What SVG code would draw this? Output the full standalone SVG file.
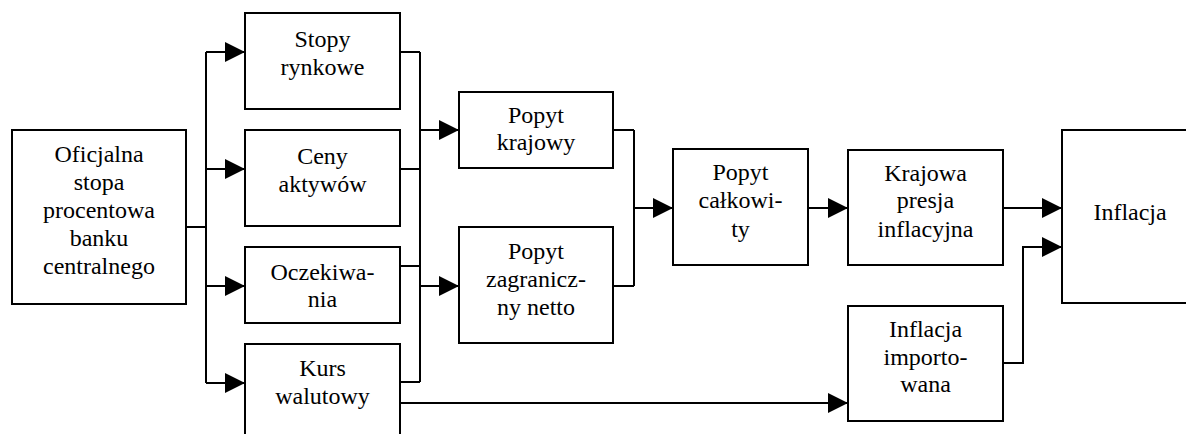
<svg xmlns="http://www.w3.org/2000/svg" width="1186" height="434" viewBox="0 0 1186 434">
  <style>
    .box { fill: #ffffff; stroke: #000000; stroke-width: 2; }
  </style>
  <defs>
    <marker id="head" markerUnits="userSpaceOnUse" markerWidth="20" markerHeight="20" refX="20" refY="10" orient="auto">
      <path d="M0,0 L20,10 L0,20 z" fill="#000000"/>
    </marker>
  </defs>
  <rect width="1186" height="434" fill="#ffffff"/>

  <!-- connectors -->
  <g id="connectors" fill="none" stroke="#000000" stroke-width="2">
    <!-- fan-out from the policy rate -->
    <path d="M186,227 H206 M206,52 V383"/>
    <path d="M206,52 H245" marker-end="url(#head)"/>
    <path d="M206,169 H245" marker-end="url(#head)"/>
    <path d="M206,286 H245" marker-end="url(#head)"/>
    <path d="M206,383 H245" marker-end="url(#head)"/>
    <!-- collector of the four channels -->
    <path d="M400,52 H420 M400,169 H420 M400,266 H420 M400,382 H420 M420,52 V382"/>
    <path d="M420,130 H459" marker-end="url(#head)"/>
    <path d="M420,286 H459" marker-end="url(#head)"/>
    <!-- demand components into total demand -->
    <path d="M613,130 H634 M613,286 H634 M634,130 V286"/>
    <path d="M634,208 H673" marker-end="url(#head)"/>
    <path d="M808,208 H848" marker-end="url(#head)"/>
    <path d="M1003,208 H1062" marker-end="url(#head)"/>
    <!-- exchange rate to imported inflation -->
    <path d="M400,403 H848" marker-end="url(#head)"/>
    <path d="M1003,363 H1023 V247 H1062" marker-end="url(#head)"/>
  </g>

  <!-- labels are placed by their left edge, centred by Times metrics at 24px -->
  <g id="oficjalna-stopa">
    <rect class="box" x="12" y="130" width="174" height="174"/>
    <text x="54.4" y="162" font-family="Liberation Serif" font-size="24">Oficjalna</text>
    <text x="73.7" y="190" font-family="Liberation Serif" font-size="24">stopa</text>
    <text x="43" y="218" font-family="Liberation Serif" font-size="24">procentowa</text>
    <text x="69.7" y="246" font-family="Liberation Serif" font-size="24">banku</text>
    <text x="43" y="274" font-family="Liberation Serif" font-size="24">centralnego</text>
  </g>

  <g id="stopy-rynkowe">
    <rect class="box" x="245" y="13" width="155" height="96"/>
    <text x="294.5" y="47" font-family="Liberation Serif" font-size="24">Stopy</text>
    <text x="280.5" y="75" font-family="Liberation Serif" font-size="24">rynkowe</text>
  </g>

  <g id="ceny-aktywow">
    <rect class="box" x="245" y="130" width="155" height="96"/>
    <text x="297.2" y="164" font-family="Liberation Serif" font-size="24">Ceny</text>
    <text x="278.5" y="192" font-family="Liberation Serif" font-size="24">aktywów</text>
  </g>

  <g id="oczekiwania">
    <rect class="box" x="245" y="247" width="155" height="76"/>
    <text x="270.5" y="280" font-family="Liberation Serif" font-size="24">Oczekiwa-</text>
    <text x="307.8" y="307" font-family="Liberation Serif" font-size="24">nia</text>
  </g>

  <g id="kurs-walutowy">
    <rect class="box" x="245" y="344" width="155" height="100"/>
    <text x="299.2" y="376" font-family="Liberation Serif" font-size="24">Kurs</text>
    <text x="275.2" y="404" font-family="Liberation Serif" font-size="24">walutowy</text>
  </g>

  <g id="popyt-krajowy">
    <rect class="box" x="459" y="92" width="154" height="76"/>
    <text x="508" y="123" font-family="Liberation Serif" font-size="24">Popyt</text>
    <text x="496.7" y="150" font-family="Liberation Serif" font-size="24">krajowy</text>
  </g>

  <g id="popyt-zagraniczny">
    <rect class="box" x="459" y="227" width="154" height="116"/>
    <text x="508" y="259" font-family="Liberation Serif" font-size="24">Popyt</text>
    <text x="486" y="287" font-family="Liberation Serif" font-size="24">zagranicz-</text>
    <text x="497" y="315" font-family="Liberation Serif" font-size="24">ny netto</text>
  </g>

  <g id="popyt-calkowity">
    <rect class="box" x="673" y="149" width="135" height="116"/>
    <text x="712.5" y="180" font-family="Liberation Serif" font-size="24">Popyt</text>
    <text x="698.5" y="208" font-family="Liberation Serif" font-size="24">całkowi-</text>
    <text x="731.2" y="237" font-family="Liberation Serif" font-size="24">ty</text>
  </g>

  <g id="krajowa-presja">
    <rect class="box" x="848" y="150" width="155" height="115"/>
    <text x="884.2" y="181" font-family="Liberation Serif" font-size="24">Krajowa</text>
    <text x="896.8" y="208" font-family="Liberation Serif" font-size="24">presja</text>
    <text x="877.5" y="237" font-family="Liberation Serif" font-size="24">inflacyjna</text>
  </g>

  <g id="inflacja-importowana">
    <rect class="box" x="848" y="306" width="155" height="115"/>
    <text x="888.9" y="337" font-family="Liberation Serif" font-size="24">Inflacja</text>
    <text x="883.5" y="365" font-family="Liberation Serif" font-size="24">importo-</text>
    <text x="900.2" y="392" font-family="Liberation Serif" font-size="24">wana</text>
  </g>

  <g id="inflacja">
    <rect class="box" x="1062" y="130" width="150" height="173"/>
    <text x="1093.4" y="220" font-family="Liberation Serif" font-size="24">Inflacja</text>
  </g>
</svg>
